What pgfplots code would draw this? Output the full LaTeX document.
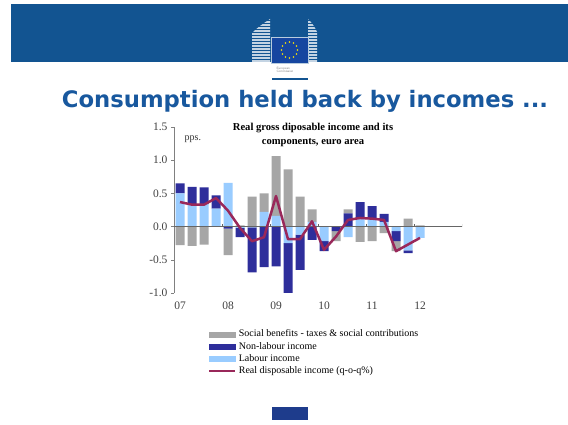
\documentclass[border=0pt]{standalone}
\usepackage{pgfplots}
\usepackage{pgfplotstable}
\pgfplotsset{compat=1.18}
\usetikzlibrary{calc}
\usepackage{fontspec}
\setmainfont{Liberation Serif}
\newfontfamily\titlefont{DejaVu Sans}

\definecolor{ecblue}{RGB}{18,84,145}
\definecolor{titleblue}{RGB}{24,88,158}
\definecolor{flagblue}{RGB}{22,70,160}
\definecolor{sbgray}{RGB}{166,166,166}
\definecolor{nlblue}{RGB}{46,46,155}
\definecolor{lblue}{RGB}{153,204,255}
\definecolor{rdiline}{RGB}{153,40,90}
\definecolor{botblue}{RGB}{30,60,140}

% quarters 07Q1..12Q1 at x = 0..20; components split into positive / negative parts
\pgfplotstableread{
x   lp    dp    gp    ln     dn     gn     rdi
0   0.50  0.15  0.00  0.00   0.00  -0.28   0.37
1   0.34  0.26  0.00  0.00   0.00  -0.29   0.33
2   0.34  0.25  0.00  0.00   0.00  -0.27   0.33
3   0.27  0.20  0.00  0.00   0.00   0.00   0.43
4   0.66  0.00  0.00  0.00  -0.03  -0.40   0.24
5   0.00  0.00  0.02 -0.02  -0.14   0.00  -0.02
6   0.00  0.00  0.45 -0.01  -0.68   0.00  -0.22
7   0.22  0.00  0.28  0.00  -0.61   0.00  -0.16
8   0.16  0.00  0.90  0.00  -0.60   0.00   0.46
9   0.00  0.00  0.86 -0.25  -0.75   0.00  -0.19
10  0.00  0.00  0.45 -0.12  -0.53   0.00  -0.19
11  0.07  0.00  0.19  0.00  -0.20   0.00   0.08
12  0.00  0.00  0.00 -0.22  -0.15   0.00  -0.35
13  0.00  0.00  0.00  0.00  -0.07  -0.15  -0.15
14  0.00  0.20  0.06 -0.16   0.00   0.00   0.10
15  0.11  0.26  0.00  0.00   0.00  -0.23   0.13
16  0.12  0.19  0.00  0.00   0.00  -0.22   0.12
17  0.07  0.12  0.00  0.00   0.00  -0.10   0.10
18  0.00  0.00  0.00 -0.07  -0.15  -0.15  -0.37
19  0.00  0.00  0.12 -0.36  -0.04   0.00  -0.27
20  0.00  0.00  0.02 -0.17   0.00   0.00  -0.17
}\rdidata

\pgfplotsset{
  chartbase/.style={
    at={(174pt,132pt)}, anchor=south west,
    scale only axis, width=288pt, height=166pt,
    xmin=-0.5, xmax=23.5, ymin=-1, ymax=1.5,
  },
  barpart/.style={fill=#1, draw=none},
}

\begin{document}
\begin{tikzpicture}
\useasboundingbox (0,0) rectangle (568pt,425pt);
\fill[white] (0,0) rectangle (568pt,425pt);

% header band and logo
\fill[ecblue] (11pt,363pt) rectangle (568pt,421pt);
\begin{scope}
  \clip (252pt,363pt) -- (252pt,392pt) .. controls (258pt,398pt) and (264pt,402pt) .. (270pt,406pt) -- (270pt,363pt) -- cycle;
  \foreach \yy in {364,367,...,406} \draw[white!75!ecblue, line width=1.1pt] (250pt,\yy pt) -- (272pt,\yy pt);
\end{scope}
\begin{scope}
  \clip (308pt,363pt) -- (308pt,406pt) .. controls (312pt,402pt) and (315pt,398pt) .. (317pt,393pt) -- (317pt,363pt) -- cycle;
  \foreach \yy in {364,367,...,406} \draw[white!75!ecblue, line width=1.1pt] (306pt,\yy pt) -- (319pt,\yy pt);
\end{scope}
\fill[flagblue] (271pt,362pt) rectangle (308pt,388pt);
\draw[white!70!ecblue, line width=0.4pt] (271pt,362pt) rectangle (308pt,388pt);
\foreach \a in {0,30,...,330} \fill[yellow!90!orange] ($(289.5pt,375pt)+(\a:8pt)$) circle (0.9pt);
\node[font=\sffamily\fontsize{3.2}{3.8}\selectfont, text=gray, align=left, inner sep=0pt] at (285pt,355pt) {European\\Commission};
\draw[ecblue, line width=1.3pt] (272pt,346pt) -- (308pt,346pt);
\fill[botblue] (272pt,5pt) rectangle (308pt,18pt);

\node[anchor=base, font=\titlefont\bfseries\fontsize{22.7}{26}\selectfont, text=titleblue] at (305pt,317pt) {Consumption held back by incomes ...};

\node[align=center, font=\bfseries\fontsize{10.6}{13.5}\selectfont] at (313pt,290pt) {Real gross diposable income and its\\components, euro area};

% positive parts, stacked from zero upwards
\begin{axis}[chartbase, ybar stacked, bar width=9pt,
  axis x line*=bottom, axis y line*=left,
  x axis line style={draw=none},
  y axis line style={draw=gray},
  xtick={0,4,8,12,16,20}, xticklabels={07,08,09,10,11,12},
  xtick style={draw=none},
  ytick={-1,-0.5,0,0.5,1,1.5},
  ytick style={draw=gray}, tick align=outside, major tick length=3pt,
  ticklabel style={font=\fontsize{11.5}{13}\selectfont, text=black!75},
  xticklabel style={yshift=-2pt},
  yticklabel style={/pgf/number format/.cd, fixed, fixed zerofill, precision=1, assume math mode=true},
  clip=false]
\addplot[barpart=lblue] table[x=x, y=lp] {\rdidata};
\addplot[barpart=nlblue] table[x=x, y=dp] {\rdidata};
\addplot[barpart=sbgray] table[x=x, y=gp] {\rdidata};
\node[anchor=west, font=\fontsize{10}{12}\selectfont, text=black!80] at (axis cs:0.1,1.32) {pps.};
\end{axis}

% negative parts, stacked from zero downwards
\begin{axis}[chartbase, ybar stacked, bar width=9pt, hide axis]
\addplot[barpart=lblue] table[x=x, y=ln] {\rdidata};
\addplot[barpart=nlblue] table[x=x, y=dn] {\rdidata};
\addplot[barpart=sbgray] table[x=x, y=gn] {\rdidata};
\end{axis}

% zero line, income line and legend
\begin{axis}[chartbase, hide axis,
  legend style={at={(axis description cs:0.118,-0.212)}, anchor=north west,
    draw=none, fill=none, inner sep=0pt, column sep=1.5pt,
    font=\fontsize{10}{12}\selectfont,
    nodes={inner sep=1pt, text height=7.6pt, text depth=2.6pt},
    cells={anchor=west}},
  legend cell align=left]
\addplot[black!60, line width=0.6pt, forget plot] coordinates {(-0.5,0) (23.5,0)};
\addplot[black!60, line width=0.5pt, ycomb, no markers, forget plot] coordinates {(3.5,0.04) (7.5,0.04) (11.5,0.04) (15.5,0.04) (19.5,0.04) (23.5,0.04)};
\addplot[rdiline, line width=2.5pt, line join=round, no markers, forget plot] table[x=x, y=rdi] {\rdidata};
\addlegendimage{legend image code/.code={\fill[sbgray] (0pt,-2.5pt) rectangle (26pt,2.5pt);}}
\addlegendentry{Social benefits - taxes \& social contributions}
\addlegendimage{legend image code/.code={\fill[nlblue] (0pt,-2.5pt) rectangle (26pt,2.5pt);}}
\addlegendentry{Non-labour income}
\addlegendimage{legend image code/.code={\fill[lblue] (0pt,-2.5pt) rectangle (26pt,2.5pt);}}
\addlegendentry{Labour income}
\addlegendimage{legend image code/.code={\draw[rdiline, line width=2.2pt] (0pt,0pt) -- (26pt,0pt);}}
\addlegendentry{Real disposable income (q-o-q\%)}
\end{axis}
\end{tikzpicture}
\end{document}
